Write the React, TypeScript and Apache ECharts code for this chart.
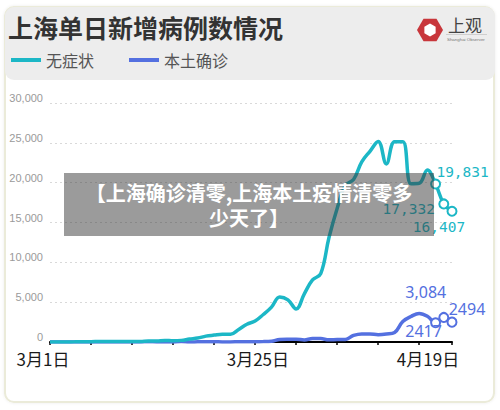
import React, { useEffect, useRef } from "react";
import * as echarts from "echarts";

const dates = [
  "3月1日", "3月2日", "3月3日", "3月4日", "3月5日", "3月6日", "3月7日", "3月8日", "3月9日", "3月10日",
  "3月11日", "3月12日", "3月13日", "3月14日", "3月15日", "3月16日", "3月17日", "3月18日", "3月19日", "3月20日",
  "3月21日", "3月22日", "3月23日", "3月24日", "3月25日", "3月26日", "3月27日", "3月28日", "3月29日", "3月30日",
  "3月31日", "4月1日", "4月2日", "4月3日", "4月4日", "4月5日", "4月6日", "4月7日", "4月8日", "4月9日",
  "4月10日", "4月11日", "4月12日", "4月13日", "4月14日", "4月15日", "4月16日", "4月17日", "4月18日", "4月19日",
];

const asymptomatic = [
  1, 5, 14, 16, 28, 45, 51, 62, 76, 64,
  78, 64, 128, 130, 197, 150, 203, 366, 492, 734,
  865, 977, 979, 1580, 2231, 2631, 3450, 4381, 5656, 5298,
  4144, 6051, 7788, 8581, 13086, 16766, 19660, 20398, 22609, 23937,
  25173, 22348, 25141, 25146, 19872, 19923, 21582, 19831, 17332, 16407,
];

const confirmed = [
  1, 3, 2, 3, 0, 3, 1, 3, 4, 11,
  5, 1, 41, 9, 5, 8, 57, 8, 17, 24,
  31, 4, 4, 29, 38, 45, 50, 96, 326, 355,
  358, 260, 438, 425, 268, 311, 322, 824, 1015, 1006,
  914, 994, 1189, 2573, 3200, 3590, 3238, 2417, 3084, 2494,
];

const seriesNames = ["无症状", "本土确诊"];
const xLabelDays = ["3月1日", "3月25日", "4月19日"];
const yMax = 30000;
const yStep = 5000;

const titleText = "上海单日新增病例数情况";
const bannerLines = ["【上海确诊清零,上海本土疫情清零多", "少天了】"];

const TEAL = "#1cb7c6";
const BLUE = "#5470e0";

// label styling for the last three points (style only)
const tealLabelStyle = [
  { offset: [28, -11], comma: true },
  { offset: [-34, 6], comma: true },
  { offset: [-12, 17], comma: true },
];
const blueLabelStyle = [
  { offset: [-11, 9], comma: false },
  { offset: [-17, -24], comma: true },
  { offset: [16, -12], comma: false },
];

const xLabelRich: Record<string, any> = {
  a: { padding: [0, 14, 0, 0] },
  b: { padding: [0, 0, 0, 22] },
  c: { padding: [0, 48, 0, 0] },
};

const SYM = 9;

function buildData(values: number[], specs: any[], color: string, mono: boolean) {
  const n = values.length;
  return values.map((v, i) => {
    const k = i - (n - specs.length);
    if (k < 0) return v;
    const s = specs[k];
    return {
      value: v,
      symbol: "emptyCircle",
      symbolSize: SYM,
      itemStyle: { color: color, borderColor: color, borderWidth: 1.6 },
      label: {
        show: true,
        position: [SYM / 2 + s.offset[0], SYM / 2 + s.offset[1]],
        align: "center",
        verticalAlign: "middle",
        formatter: () => (s.comma ? v.toLocaleString("en-US") : String(v)),
        color: color,
        fontSize: mono ? 14.5 : 16,
        fontFamily: mono ? "DejaVu Sans Mono" : "Noto Sans",
      },
    };
  });
}

export default function App() {
  const ref = useRef<HTMLDivElement>(null);

  useEffect(() => {
    if (!ref.current) return;
    const chart = echarts.init(ref.current, undefined, { renderer: "svg" });
    const hexOuter: number[][] = [];
    const hexInner: number[][] = [];
    for (let k = 0; k < 6; k++) {
      const a = (Math.PI / 3) * k;
      hexOuter.push([430 + 13 * Math.cos(a), 30 + 13 * Math.sin(a)]);
      const b = a + Math.PI / 6;
      hexInner.push([430 + 6.5 * Math.cos(b), 30 + 6.5 * Math.sin(b)]);
    }

    chart.setOption({
      animation: false,
      backgroundColor: "#ffffff",
      title: {
        text: titleText,
        left: 8,
        top: 14,
        padding: 0,
        textStyle: {
          fontSize: 25,
          fontWeight: "bold",
          color: "#333333",
          fontFamily: "Noto Sans CJK SC",
          lineHeight: 25,
        },
      },
      legend: {
        data: seriesNames,
        left: 11,
        top: 52,
        padding: 0,
        icon: "rect",
        itemWidth: 30,
        itemHeight: 4,
        itemGap: 35,
        textStyle: { fontSize: 16, color: "#555555", fontFamily: "Noto Sans CJK SC" },
      },
      grid: { left: 50, right: 48, top: 103, bottom: 68, containLabel: false },
      xAxis: {
        type: "category",
        data: dates,
        boundaryGap: false,
        axisLine: { show: true, lineStyle: { color: "#000000", width: 2 } },
        axisTick: {
          show: true,
          length: 3,
          interval: (i: number) => i % 5 === 0 || i === dates.length - 1,
          lineStyle: { color: "#000000", width: 1.5 },
        },
        axisLabel: {
          interval: (i: number) => xLabelDays.includes(dates[i]),
          showMinLabel: true,
          showMaxLabel: true,
          margin: 8,
          color: "#1a1a1a",
          fontSize: 17,
          fontFamily: "Noto Sans CJK SC",
          formatter: (v: string) => {
            const idx = xLabelDays.indexOf(v);
            const key = ["a", "b", "c"][idx] || "a";
            return `{${key}|${v}}`;
          },
          rich: Object.fromEntries(
            Object.entries(xLabelRich).map(([k, s]) => [
              k,
              { ...s, fontSize: 17, color: "#1a1a1a", fontFamily: "Noto Sans CJK SC" },
            ])
          ),
        },
        splitLine: { show: false },
      },
      yAxis: {
        type: "value",
        min: 0,
        max: yMax,
        interval: yStep,
        axisLine: { show: false },
        axisTick: { show: false },
        axisLabel: {
          margin: 7,
          color: "#9a9a9a",
          fontSize: 11,
          fontFamily: "Liberation Sans",
          verticalAlign: "bottom",
          lineHeight: 10,
          formatter: (v: number) => v.toLocaleString("en-US"),
        },
        splitLine: { show: true, lineStyle: { color: "#d9d9d9", type: [2, 3], width: 1 } },
      },
      series: [
        {
          name: seriesNames[1],
          type: "line",
          smooth: 0.4,
          symbol: "emptyCircle",
          symbolSize: 0,
          showSymbol: true,
          showAllSymbol: true,
          color: BLUE,
          lineStyle: { color: BLUE, width: 3.5 },
          data: buildData(confirmed, blueLabelStyle, BLUE, false),
          z: 3,
        },
        {
          name: seriesNames[0],
          type: "line",
          smooth: 0.4,
          symbol: "emptyCircle",
          symbolSize: 0,
          showSymbol: true,
          showAllSymbol: true,
          color: TEAL,
          lineStyle: { color: TEAL, width: 3.5 },
          data: buildData(asymptomatic, tealLabelStyle, TEAL, true),
          z: 4,
        },
      ],
      graphic: [
        {
          type: "rect",
          z: -10,
          shape: { x: 5, y: 7, width: 489, height: 395, r: 9 },
          style: {
            fill: "#ffffff",
            stroke: "#ebebd9",
            lineWidth: 2,
            shadowBlur: 3,
            shadowColor: "rgba(0,0,0,0.08)",
          },
        },
        {
          type: "rect",
          z: -9,
          shape: { x: 5, y: 7, width: 490, height: 73, r: 9 },
          style: { fill: "#ededed" },
        },
        {
          type: "polygon",
          z: 5,
          shape: { points: hexOuter },
          style: { fill: "#c8363b" },
        },
        {
          type: "polygon",
          z: 6,
          shape: { points: hexInner },
          style: { fill: "#ffffff" },
        },
        {
          type: "text",
          z: 6,
          x: 448,
          y: 16,
          style: {
            text: "上观",
            fontSize: 17,
            fill: "#444444",
            fontFamily: "Noto Sans CJK SC",
          },
        },
        {
          type: "line",
          z: 6,
          shape: { x1: 446, y1: 34.5, x2: 487, y2: 34.5 },
          style: { stroke: "#bbbbbb", lineWidth: 0.6 },
        },
        {
          type: "text",
          z: 6,
          x: 447,
          y: 37,
          style: {
            text: "Shanghai Observer",
            fontSize: 4.4,
            fill: "#777777",
            fontFamily: "Liberation Sans",
          },
        },
        {
          type: "rect",
          z: 100,
          shape: { x: 64, y: 173, width: 370, height: 63 },
          style: { fill: "rgba(55,55,55,0.5)" },
        },
        {
          type: "text",
          z: 101,
          x: 249,
          y: 192,
          style: {
            text: bannerLines[0],
            fontSize: 20,
            fontWeight: "bold",
            fill: "#ffffff",
            align: "center",
            verticalAlign: "middle",
            fontFamily: "Noto Sans CJK SC",
          },
        },
        {
          type: "text",
          z: 101,
          x: 249,
          y: 217,
          style: {
            text: bannerLines[1],
            fontSize: 20,
            fontWeight: "bold",
            fill: "#ffffff",
            align: "center",
            verticalAlign: "middle",
            fontFamily: "Noto Sans CJK SC",
          },
        },
      ],
    });

    return () => chart.dispose();
  }, []);

  return (
    <div
      ref={ref}
      style={{ position: "fixed", left: 0, top: 0, width: 500, height: 410 }}
    />
  );
}
